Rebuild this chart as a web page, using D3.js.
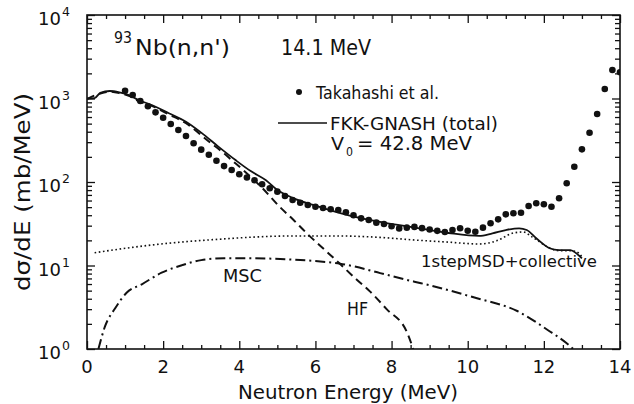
<!DOCTYPE html>
<html>
<head>
<meta charset="utf-8">
<script src="https://cdn.jsdelivr.net/npm/d3@7"></script>
<style>
  html, body { margin: 0; padding: 0; background: #fff; }
  svg text { font-family: "DejaVu Sans", "Liberation Sans", sans-serif; fill: #111; }
</style>
</head>
<body>
<svg id="chart" width="634" height="404"></svg>
<script>
// ---------- data ----------
const xTicks = [0, 2, 4, 6, 8, 10, 12, 14];
const yDecades = [0, 1, 2, 3, 4];

const expE = [1.0,1.2,1.4,1.6,1.8,2.0,2.2,2.4,2.6,2.8,3.0,3.2,3.4,3.6,3.8,4.0,4.2,4.4,4.6,4.8,
  5.0,5.2,5.4,5.6,5.8,6.0,6.2,6.4,6.6,6.8,7.0,7.2,7.4,7.6,7.8,8.0,8.2,8.4,8.6,8.8,
  9.0,9.2,9.4,9.6,9.8,10.0,10.2,10.4,10.6,10.8,11.0,11.2,11.4,11.6,11.8,12.0,12.2,12.4,12.6,12.8,
  13.0,13.2,13.4,13.6,13.8,14.0];
const expV = [1240,1100,934,807,683,589,495,420,356,291,244,212,180,155,139,124,113,105,94,84,
  76.6,68,60.8,56.5,53,50.6,48.8,47.1,46.2,43.4,39.9,36.7,35,32.6,31.4,29.5,27.8,28.4,29,28,
  27,26,25.2,26.6,27.9,26.1,25.4,28.4,32,35.7,41,42.2,42.9,51.6,55.6,54.1,50.6,63.8,96.5,152,
  246,389,652,1300,2190,2060];

const totalE = [0,0.2,0.35,0.6,0.85,1.1,1.35,1.7,2.15,2.6,3.0,3.45,3.9,4.3,4.7,5.0,5.35,6.0,6.9,7.8,8.6,9.5,10.3,10.65,11.0,11.35,11.55,11.8,12.15,12.4,12.7,12.85,13.0];
const totalV = [1000,1010,1170,1230,1185,1100,960,836,665,527,390,265,183,135,105,80,66,52,39.5,32.6,28.5,24.5,22.6,24.3,26.6,27.9,26.6,21.2,16.1,15.3,15.3,14.0,12.2];

const msdE = [0.2,0.8,1.7,2.6,3.45,4.3,5.4,6.5,7.7,8.6,9.45,10.3,10.75,11.2,11.45,11.7,12.1,12.35,12.7,12.85,13.0];
const msdV = [14.2,15.6,17.6,19.3,20.6,21.8,22.6,22.6,21.7,20.2,19.1,18.1,19.7,24.5,25.2,21.9,16.7,15.1,15.0,14.7,12.7];

const mscE = [0.3,0.47,0.74,1.04,1.44,1.96,2.5,3.0,3.6,4.3,5.2,6.0,6.65,7.0,7.7,8.6,9.0,10.2,11.3,12.1,12.6,12.77];
const mscV = [1.0,1.85,3.07,4.72,5.96,8.2,10.1,11.6,12.2,12.2,11.9,11.3,10.5,9.8,8.1,6.4,5.8,4.1,2.85,1.69,1.17,1.0];

const hfE = [0,0.35,0.6,0.85,1.1,1.35,1.7,2.15,2.6,3.2,3.55,3.8,4.15,4.6,5.07,5.4,5.81,6.3,6.65,7.08,7.43,7.87,8.4,8.57];
const hfV = [985,1150,1205,1160,1075,935,815,645,505,305,230,183,133,85,50,36,23.4,14.6,10.4,6.8,4.9,3.0,1.6,1.0];

// ---------- layout ----------
const L = 87, R = 620, T = 15, B = 349;
const svg = d3.select("#chart");
const x = d3.scaleLinear().domain([0, 14]).range([L, R]);
const y = d3.scaleLog().domain([1, 1e4]).range([B, T]);
const ink = "#111";

svg.append("clipPath").attr("id", "pa").append("rect")
  .attr("x", L).attr("y", T).attr("width", R - L).attr("height", B - T);

const xMinor = d3.range(0, 14.001, 0.5).filter(v => Math.abs(v % 2) > 1e-6);
const yMinor = [];
for (let d = 0; d < 4; d++) for (let k = 2; k <= 9; k++) yMinor.push(k * Math.pow(10, d));

function styleAxis(g) {
  g.select(".domain").remove();
  g.selectAll("line").attr("stroke", ink).attr("stroke-width", 1.3);
  g.selectAll("text").remove();
}
const decVals = yDecades.map(d => Math.pow(10, d));
svg.append("g").attr("transform", `translate(0,${B})`)
  .call(d3.axisBottom(x).tickValues(xTicks).tickSize(-8)).call(styleAxis);
svg.append("g").attr("transform", `translate(0,${B})`)
  .call(d3.axisBottom(x).tickValues(xMinor).tickSize(-4)).call(styleAxis);
svg.append("g").attr("transform", `translate(0,${T})`)
  .call(d3.axisTop(x).tickValues(xTicks).tickSize(-8)).call(styleAxis);
svg.append("g").attr("transform", `translate(0,${T})`)
  .call(d3.axisTop(x).tickValues(xMinor).tickSize(-4)).call(styleAxis);
svg.append("g").attr("transform", `translate(${L},0)`)
  .call(d3.axisLeft(y).tickValues(decVals).tickSize(-8)).call(styleAxis);
svg.append("g").attr("transform", `translate(${L},0)`)
  .call(d3.axisLeft(y).tickValues(yMinor).tickSize(-5)).call(styleAxis);
svg.append("g").attr("transform", `translate(${R},0)`)
  .call(d3.axisRight(y).tickValues(decVals).tickSize(-8)).call(styleAxis);
svg.append("g").attr("transform", `translate(${R},0)`)
  .call(d3.axisRight(y).tickValues(yMinor).tickSize(-5)).call(styleAxis);

svg.append("rect").attr("x", L).attr("y", T).attr("width", R - L).attr("height", B - T)
  .attr("fill", "none").attr("stroke", ink).attr("stroke-width", 1.6);

// tick labels
svg.append("g").selectAll("text").data(xTicks).join("text")
  .attr("x", d => x(d)).attr("y", B + 24).attr("text-anchor", "middle")
  .attr("font-size", 18).text(d => d);

const yl = svg.append("g").selectAll("g").data(yDecades).join("g");
yl.append("text").attr("x", 61).attr("y", d => y(Math.pow(10, d)) + 10)
  .attr("text-anchor", "end").attr("font-size", 18).text("10");
yl.append("text").attr("x", 62).attr("y", d => y(Math.pow(10, d)) + 1)
  .attr("font-size", 12.5).text(d => d);

function label(xp, yp, str, size, width, anchor) {
  const t = svg.append("text").attr("x", xp).attr("y", yp)
    .attr("font-size", size).text(str);
  if (anchor) t.attr("text-anchor", anchor);
  if (width) t.attr("textLength", width).attr("lengthAdjust", "spacingAndGlyphs");
  return t;
}

// axis titles
label(348, 399, "Neutron Energy (MeV)", 19.5, 220, "middle");
svg.append("text").attr("transform", "translate(30,192) rotate(-90)")
  .attr("text-anchor", "middle").attr("font-size", 21)
  .attr("textLength", 198).attr("lengthAdjust", "spacingAndGlyphs")
  .text("dσ/dE (mb/MeV)");

// ---------- curves ----------
const line = d3.line().x(d => x(d[0])).y(d => y(d[1])).curve(d3.curveMonotoneX);
const plot = svg.append("g").attr("clip-path", "url(#pa)");
const zip = (a, b) => a.map((v, i) => [v, b[i]]);

plot.append("path").datum(zip(msdE, msdV)).attr("d", line)
  .attr("fill", "none").attr("stroke", ink).attr("stroke-width", 1.6)
  .attr("stroke-dasharray", "1.6,2.6");
plot.append("path").datum(zip(mscE, mscV)).attr("d", line)
  .attr("fill", "none").attr("stroke", ink).attr("stroke-width", 2)
  .attr("stroke-dasharray", "10,4,2,4");
plot.append("path").datum(zip(hfE, hfV)).attr("d", line)
  .attr("fill", "none").attr("stroke", ink).attr("stroke-width", 2)
  .attr("stroke-dasharray", "8,5");
plot.append("path").datum(zip(totalE, totalV)).attr("d", line)
  .attr("fill", "none").attr("stroke", ink).attr("stroke-width", 1.8);

plot.append("g").selectAll("circle").data(zip(expE, expV)).join("circle")
  .attr("cx", d => x(d[0])).attr("cy", d => y(d[1])).attr("r", 3.3).attr("fill", ink);

// ---------- annotations ----------
label(114, 43, "93", 15, 18);
label(135, 55, "Nb(n,n')", 21, 95);
label(281, 55, "14.1 MeV", 21, 90);

svg.append("circle").attr("cx", 299).attr("cy", 92).attr("r", 3).attr("fill", ink);
label(316, 99, "Takahashi et al.", 17.5, 123);
svg.append("line").attr("x1", 278).attr("x2", 327).attr("y1", 123).attr("y2", 123)
  .attr("stroke", ink).attr("stroke-width", 1.6);
label(330, 129.5, "FKK-GNASH  (total)", 18, 168);
label(331, 150, "V", 18, 13);
label(346, 156, "0", 11.5, 7);
label(357, 150, "= 42.8 MeV", 19, 115);

label(223, 282, "MSC", 18, 39);
label(347, 315, "HF", 18, 21);
label(597, 267, "1stepMSD+collective", 16.5, null, "end");
</script>
</body>
</html>
